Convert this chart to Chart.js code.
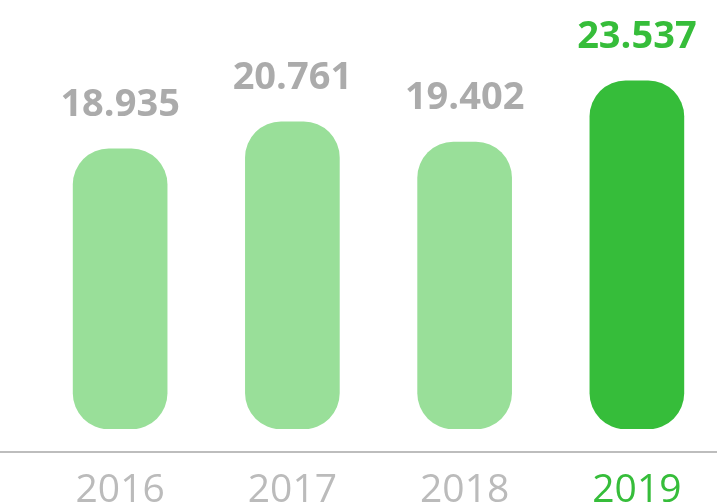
<!DOCTYPE html>
<html>
<head>
<meta charset="utf-8">
<script src="https://cdn.jsdelivr.net/npm/chart.js@4"></script>
<style>
  html, body { margin: 0; padding: 0; background: #fff; overflow: hidden; }
  #wrap { width: 724px; height: 502px; }
</style>
</head>
<body>
<div id="wrap"><canvas id="myChart"></canvas></div>
<script>
const years = ["2016", "2017", "2018", "2019"];
const totals = [18935, 20761, 19402, 23537];

const lightGreen = "#99df99";
const mainGreen = "#36bd3a";
const grey = "#ababab";

// last year is highlighted
const isLast = (i) => i === years.length - 1;

const valueLabels = {
    id: "valueLabels",
    afterDatasetsDraw(chart) {
        const c = chart.ctx;
        const meta = chart.getDatasetMeta(0);
        c.save();
        c.font = "bold 38px 'Open Sans'";
        c.textAlign = "center";
        c.textBaseline = "alphabetic";
        meta.data.forEach((bar, i) => {
            c.fillStyle = isLast(i) ? mainGreen : grey;
            c.fillText(totals[i].toLocaleString("de-DE"), bar.x, bar.y - 33);
        });
        c.restore();
    },
};

// baseline sits a bit below the bars
const baseLine = {
    id: "baseLine",
    afterDraw(chart) {
        const c = chart.ctx;
        const y = chart.chartArea.bottom + 23;
        c.save();
        c.strokeStyle = "#bdbdbd";
        c.lineWidth = 2;
        c.beginPath();
        c.moveTo(0, y);
        c.lineTo(chart.width, y);
        c.stroke();
        c.restore();
    },
};

const ctx = document.getElementById("myChart");

const chart = new Chart(ctx, {
    type: "bar",
    data: {
        labels: years,
        datasets: [
            {
                data: totals,
                backgroundColor: years.map((y, i) => (isLast(i) ? mainGreen : lightGreen)),
                borderRadius: 36,
                borderSkipped: false,
                barThickness: 94,
            },
        ],
    },
    options: {
        responsive: true,
        maintainAspectRatio: false,
        animation: false,
        layout: {
            padding: { left: 34, right: 1, top: 0, bottom: -50 },
        },
        scales: {
            x: {
                grid: { display: false, drawTicks: false },
                border: { display: false },
                ticks: {
                    padding: 42,
                    font: { family: "'Open Sans'", size: 39, weight: 400, lineHeight: 1 },
                    color: (c) => (isLast(c.index) ? mainGreen : "#bbbbbb"),
                },
            },
            y: {
                display: false,
                min: 0,
                max: 29000,
            },
        },
        plugins: {
            legend: { display: false },
            tooltip: { enabled: false },
        },
    },
    plugins: [valueLabels, baseLine],
});
</script>
</body>
</html>
